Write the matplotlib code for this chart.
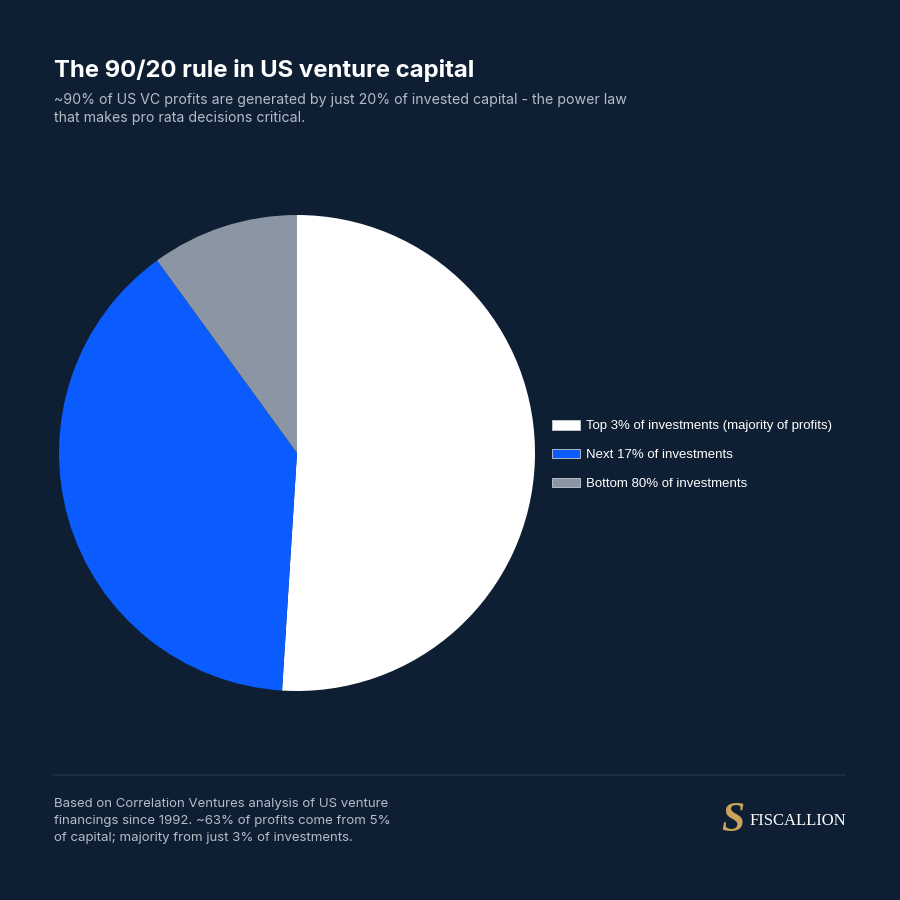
import matplotlib.pyplot as plt
from matplotlib.patches import Patch

# ---- data ----
labels = ["Top 3% of investments (majority of profits)",
          "Next 17% of investments",
          "Bottom 80% of investments"]
shares = [51, 39, 10]
colors = ["#ffffff", "#0a5cff", "#8b96a5"]

BG = "#0e1f33"
TITLE = "The 90/20 rule in US venture capital"
SUBTITLE = ("~90% of US VC profits are generated by just 20% of invested capital - the power law\n"
            "that makes pro rata decisions critical.")
FOOTNOTE = ("Based on Correlation Ventures analysis of US venture\n"
            "financings since 1992. ~63% of profits come from 5%\n"
            "of capital; majority from just 3% of investments.")

W = H = 900
fig = plt.figure(figsize=(9, 9), dpi=100, facecolor=BG)


def fx(px):
    return px / W


def fy(py):
    return 1 - py / H


# ---- header ----
fig.text(fx(54), fy(70), TITLE, family=["Inter", "DejaVu Sans"], weight="bold",
         fontsize=17.2, color="white", va="center", ha="left")
fig.text(fx(54), fy(93), SUBTITLE, family=["Inter", "DejaVu Sans"],
         fontsize=10.2, color="#b4bcc8", va="top", ha="left", linespacing=1.4)

# ---- pie ----
cx, cy, r = 297, 453, 238
ax = fig.add_axes([fx(cx - r), fy(cy + r), 2 * r / W, 2 * r / H])
ax.set_facecolor(BG)
wedges, _ = ax.pie(shares, colors=colors, startangle=90, counterclock=False,
                   radius=1, wedgeprops=dict(linewidth=0))
ax.set_xlim(-1, 1)
ax.set_ylim(-1, 1)
ax.set_aspect("equal")
ax.axis("off")

handles = [Patch(facecolor=c, edgecolor="#c8ccd2", linewidth=0.6) for c in colors]
leg = fig.legend(handles, labels, loc="center left",
                 bbox_to_anchor=(fx(540), fy(455)), frameon=False,
                 prop={"family": ["Liberation Sans", "DejaVu Sans"], "size": 9.5},
                 labelcolor="white", handlelength=2.15, handleheight=0.75,
                 handletextpad=0.45, labelspacing=1.25)

# ---- footer ----
fig.add_artist(plt.Line2D([fx(53), fx(845)], [fy(775), fy(775)],
                          color="#1f3045", linewidth=1.2))
fig.text(fx(54), fy(821), FOOTNOTE, family=["Inter", "DejaVu Sans"],
         fontsize=9.5, color="#b4bcc8", va="center", ha="left", linespacing=1.5)

# logo: gold mark + wordmark
fig.text(fx(733), fy(821), "S", family=["Liberation Serif", "DejaVu Serif"],
         style="italic", weight="bold", fontsize=30, color="#c9a45a",
         va="center", ha="center")
fig.text(fx(750), fy(821), "FISCALLION", family=["Liberation Serif", "DejaVu Serif"],
         fontsize=12, color="white", va="center", ha="left")

fig.savefig("out.png", dpi=100, facecolor=BG)
